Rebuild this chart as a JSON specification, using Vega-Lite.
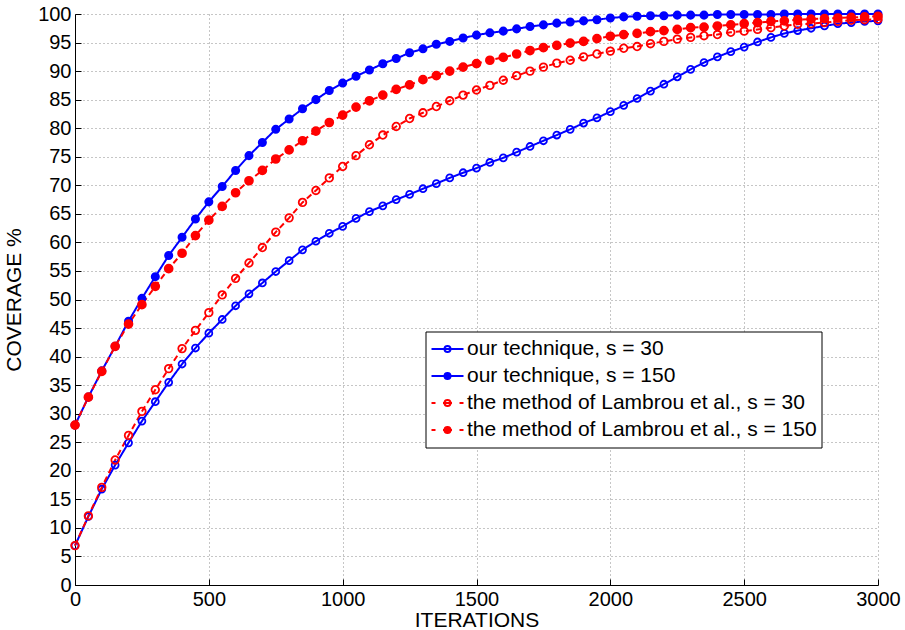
{
  "$schema": "https://vega.github.io/schema/vega-lite/v6.json",
  "width": 803,
  "height": 571,
  "autosize": {"type": "none"},
  "padding": {"left": 75, "top": 14, "right": 27, "bottom": 45},
  "background": "white",
  "config": {
    "font": "Liberation Sans",
    "view": {"stroke": null},
    "axis": {
      "domainColor": "black",
      "domainWidth": 1,
      "labelFont": "Liberation Sans",
      "labelFontSize": 20,
      "labelColor": "black",
      "titleFont": "Liberation Sans",
      "titleFontSize": 21,
      "titleFontWeight": "normal",
      "titleColor": "black",
      "grid": true,
      "gridColor": "#8c8c8c",
      "gridDash": [1, 3],
      "gridWidth": 1,
      "gridOpacity": 1,
      "ticks": true,
      "tickColor": "black",
      "tickSize": -6,
      "labelPadding": 10
    },
    "legend": {
      "orient": "none",
      "legendX": 350.5,
      "legendY": 317.5,
      "symbolSize": 100,
      "symbolStrokeWidth": 2,
      "symbolOffset": 7.5,
      "labelOffset": 9,
      "labelFont": "Liberation Sans",
      "labelFontSize": 21,
      "labelColor": "black",
      "labelLimit": 700,
      "clipHeight": 27,
      "rowPadding": 0,
      "padding": 4,
      "strokeColor": "black",
      "fillColor": "white"
    }
  },
  "data": {
    "values": [
      {"it": 0, "a": 6.9, "b": 28.0, "c": 6.9, "d": 28.0},
      {"it": 50, "a": 12.0, "b": 32.9, "c": 12.1, "d": 32.9},
      {"it": 100, "a": 16.8, "b": 37.5, "c": 17.1, "d": 37.4},
      {"it": 150, "a": 21.0, "b": 41.8, "c": 21.9, "d": 41.8},
      {"it": 200, "a": 24.9, "b": 46.2, "c": 26.2, "d": 45.7},
      {"it": 250, "a": 28.7, "b": 50.2, "c": 30.4, "d": 49.1},
      {"it": 300, "a": 32.1, "b": 54.0, "c": 34.2, "d": 52.3},
      {"it": 350, "a": 35.5, "b": 57.7, "c": 37.9, "d": 55.4},
      {"it": 400, "a": 38.7, "b": 60.9, "c": 41.4, "d": 58.1},
      {"it": 450, "a": 41.5, "b": 64.1, "c": 44.6, "d": 61.2},
      {"it": 500, "a": 44.1, "b": 67.1, "c": 47.7, "d": 63.9},
      {"it": 550, "a": 46.5, "b": 69.8, "c": 50.8, "d": 66.3},
      {"it": 600, "a": 48.9, "b": 72.6, "c": 53.7, "d": 68.7},
      {"it": 650, "a": 51.0, "b": 75.2, "c": 56.4, "d": 70.8},
      {"it": 700, "a": 52.9, "b": 77.5, "c": 59.1, "d": 72.6},
      {"it": 750, "a": 54.9, "b": 79.8, "c": 61.8, "d": 74.6},
      {"it": 800, "a": 56.8, "b": 81.6, "c": 64.3, "d": 76.2},
      {"it": 850, "a": 58.7, "b": 83.4, "c": 67.0, "d": 77.8},
      {"it": 900, "a": 60.2, "b": 85.0, "c": 69.1, "d": 79.5},
      {"it": 950, "a": 61.6, "b": 86.6, "c": 71.3, "d": 81.0},
      {"it": 1000, "a": 62.8, "b": 87.9, "c": 73.3, "d": 82.3},
      {"it": 1050, "a": 64.2, "b": 89.1, "c": 75.2, "d": 83.7},
      {"it": 1100, "a": 65.4, "b": 90.2, "c": 77.1, "d": 84.8},
      {"it": 1150, "a": 66.4, "b": 91.3, "c": 78.8, "d": 85.8},
      {"it": 1200, "a": 67.5, "b": 92.2, "c": 80.3, "d": 86.8},
      {"it": 1250, "a": 68.4, "b": 93.2, "c": 81.7, "d": 87.6},
      {"it": 1300, "a": 69.4, "b": 93.9, "c": 82.7, "d": 88.5},
      {"it": 1350, "a": 70.3, "b": 94.7, "c": 83.8, "d": 89.2},
      {"it": 1400, "a": 71.3, "b": 95.2, "c": 84.8, "d": 90.0},
      {"it": 1450, "a": 72.2, "b": 95.8, "c": 85.8, "d": 90.7},
      {"it": 1500, "a": 73.0, "b": 96.3, "c": 86.7, "d": 91.3},
      {"it": 1550, "a": 74.0, "b": 96.7, "c": 87.5, "d": 91.9},
      {"it": 1600, "a": 74.8, "b": 97.0, "c": 88.4, "d": 92.4},
      {"it": 1650, "a": 75.8, "b": 97.4, "c": 89.2, "d": 93.0},
      {"it": 1700, "a": 76.8, "b": 97.8, "c": 90.0, "d": 93.6},
      {"it": 1750, "a": 77.8, "b": 98.1, "c": 90.7, "d": 94.1},
      {"it": 1800, "a": 78.8, "b": 98.4, "c": 91.4, "d": 94.5},
      {"it": 1850, "a": 79.8, "b": 98.6, "c": 91.9, "d": 94.9},
      {"it": 1900, "a": 80.9, "b": 98.8, "c": 92.5, "d": 95.2},
      {"it": 1950, "a": 81.8, "b": 99.0, "c": 93.0, "d": 95.7},
      {"it": 2000, "a": 82.9, "b": 99.3, "c": 93.5, "d": 96.1},
      {"it": 2050, "a": 84.0, "b": 99.5, "c": 94.0, "d": 96.4},
      {"it": 2100, "a": 85.2, "b": 99.6, "c": 94.3, "d": 96.6},
      {"it": 2150, "a": 86.5, "b": 99.7, "c": 94.8, "d": 96.9},
      {"it": 2200, "a": 87.7, "b": 99.7, "c": 95.2, "d": 97.1},
      {"it": 2250, "a": 89.0, "b": 99.8, "c": 95.6, "d": 97.3},
      {"it": 2300, "a": 90.3, "b": 99.8, "c": 95.9, "d": 97.6},
      {"it": 2350, "a": 91.5, "b": 99.8, "c": 96.2, "d": 97.7},
      {"it": 2400, "a": 92.5, "b": 99.9, "c": 96.4, "d": 97.9},
      {"it": 2450, "a": 93.4, "b": 99.9, "c": 96.8, "d": 98.1},
      {"it": 2500, "a": 94.2, "b": 99.9, "c": 97.0, "d": 98.3},
      {"it": 2550, "a": 95.1, "b": 99.9, "c": 97.3, "d": 98.5},
      {"it": 2600, "a": 95.9, "b": 99.9, "c": 97.6, "d": 98.7},
      {"it": 2650, "a": 96.6, "b": 100.0, "c": 97.9, "d": 98.8},
      {"it": 2700, "a": 97.1, "b": 100.0, "c": 98.2, "d": 99.0},
      {"it": 2750, "a": 97.5, "b": 100.0, "c": 98.3, "d": 99.1},
      {"it": 2800, "a": 97.9, "b": 100.0, "c": 98.5, "d": 99.2},
      {"it": 2850, "a": 98.3, "b": 100.0, "c": 98.7, "d": 99.3},
      {"it": 2900, "a": 98.5, "b": 100.0, "c": 98.9, "d": 99.4},
      {"it": 2950, "a": 98.7, "b": 100.0, "c": 99.0, "d": 99.5},
      {"it": 3000, "a": 98.8, "b": 100.0, "c": 99.1, "d": 99.6}
    ]
  },
  "transform": [
    {"fold": ["a", "b", "c", "d"], "as": ["s", "v"]},
    {
      "lookup": "s",
      "from": {
        "data": {
          "values": [
            {"k": "a", "name": "our technique, s = 30"},
            {"k": "b", "name": "our technique, s = 150"},
            {"k": "c", "name": "the method of Lambrou et al., s = 30"},
            {"k": "d", "name": "the method of Lambrou et al., s = 150"}
          ]
        },
        "key": "k",
        "fields": ["name"]
      }
    }
  ],
  "encoding": {
    "x": {
      "field": "it",
      "type": "quantitative",
      "scale": {"domain": [0, 3000], "nice": false, "zero": false},
      "axis": {"values": [0, 500, 1000, 1500, 2000, 2500, 3000], "format": "d", "title": "ITERATIONS", "titlePadding": 0, "labelFlush": false}
    },
    "y": {
      "field": "v",
      "type": "quantitative",
      "scale": {"domain": [0, 100], "nice": false},
      "axis": {"values": [0, 5, 10, 15, 20, 25, 30, 35, 40, 45, 50, 55, 60, 65, 70, 75, 80, 85, 90, 95, 100], "title": "COVERAGE %", "titlePadding": 13}
    }
  },
  "layer": [
    {
      "mark": {"type": "line", "strokeWidth": 2},
      "encoding": {
        "color": {
          "field": "s",
          "type": "nominal",
          "scale": {"domain": ["a", "b", "c", "d"], "range": ["#0000ff", "#0000ff", "#ff0000", "#ff0000"]},
          "legend": null
        },
        "strokeDash": {
          "field": "s",
          "type": "nominal",
          "scale": {"domain": ["a", "b", "c", "d"], "range": [[1, 0], [1, 0], [6, 4], [6, 4]]},
          "legend": null
        }
      }
    },
    {
      "mark": {"type": "point", "shape": "circle", "strokeWidth": 1.8, "opacity": 1},
      "encoding": {
        "stroke": {
          "field": "name",
          "type": "nominal",
          "scale": {"domain": ["our technique, s = 30", "our technique, s = 150", "the method of Lambrou et al., s = 30", "the method of Lambrou et al., s = 150"], "range": ["#0000ff", "#0000ff", "#ff0000", "#ff0000"]},
          "legend": {"title": null, "labelExpr": "datum.label + '\u2003\u2009'"}
        },
        "fill": {
          "field": "name",
          "type": "nominal",
          "scale": {"domain": ["our technique, s = 30", "our technique, s = 150", "the method of Lambrou et al., s = 30", "the method of Lambrou et al., s = 150"], "range": ["transparent", "#0000ff", "transparent", "#ff0000"]},
          "legend": {"title": null, "labelExpr": "datum.label + '\u2003\u2009'"}
        },
        "size": {
          "field": "s",
          "type": "nominal",
          "scale": {"domain": ["a", "b", "c", "d"], "range": [48, 62, 48, 62]},
          "legend": null
        }
      }
    },
    {
      "transform": [{"filter": "datum.it < 0"}],
      "mark": {"type": "point", "strokeWidth": 2, "opacity": 1},
      "encoding": {
        "shape": {
          "field": "name",
          "type": "nominal",
          "scale": {
            "domain": ["our technique, s = 30", "our technique, s = 150", "the method of Lambrou et al., s = 30", "the method of Lambrou et al., s = 150"],
            "range": [
              "M-3.2,0H3.2M-0.6,0A0.6,0.6 0 1,0 0.6,0A0.6,0.6 0 1,0 -0.6,0Z",
              "M-3.2,0H3.2M-0.6,0A0.6,0.6 0 1,0 0.6,0A0.6,0.6 0 1,0 -0.6,0Z",
              "M-3.2,0H-2.4M-0.9,0H0.9M2.4,0H3.2M-0.6,0A0.6,0.6 0 1,0 0.6,0A0.6,0.6 0 1,0 -0.6,0Z",
              "M-3.2,0H-2.4M-0.9,0H0.9M2.4,0H3.2M-0.6,0A0.6,0.6 0 1,0 0.6,0A0.6,0.6 0 1,0 -0.6,0Z"
            ]
          },
          "legend": {"title": null, "labelExpr": "datum.label + '\u2003\u2009'"}
        },
        "stroke": {
          "field": "name",
          "type": "nominal",
          "scale": {"domain": ["our technique, s = 30", "our technique, s = 150", "the method of Lambrou et al., s = 30", "the method of Lambrou et al., s = 150"], "range": ["#0000ff", "#0000ff", "#ff0000", "#ff0000"]},
          "legend": {"title": null, "labelExpr": "datum.label + '\u2003\u2009'"}
        },
        "fill": {
          "field": "name",
          "type": "nominal",
          "scale": {"domain": ["our technique, s = 30", "our technique, s = 150", "the method of Lambrou et al., s = 30", "the method of Lambrou et al., s = 150"], "range": ["transparent", "#0000ff", "transparent", "#ff0000"]},
          "legend": {"title": null, "labelExpr": "datum.label + '\u2003\u2009'"}
        }
      }
    }
  ]
}
